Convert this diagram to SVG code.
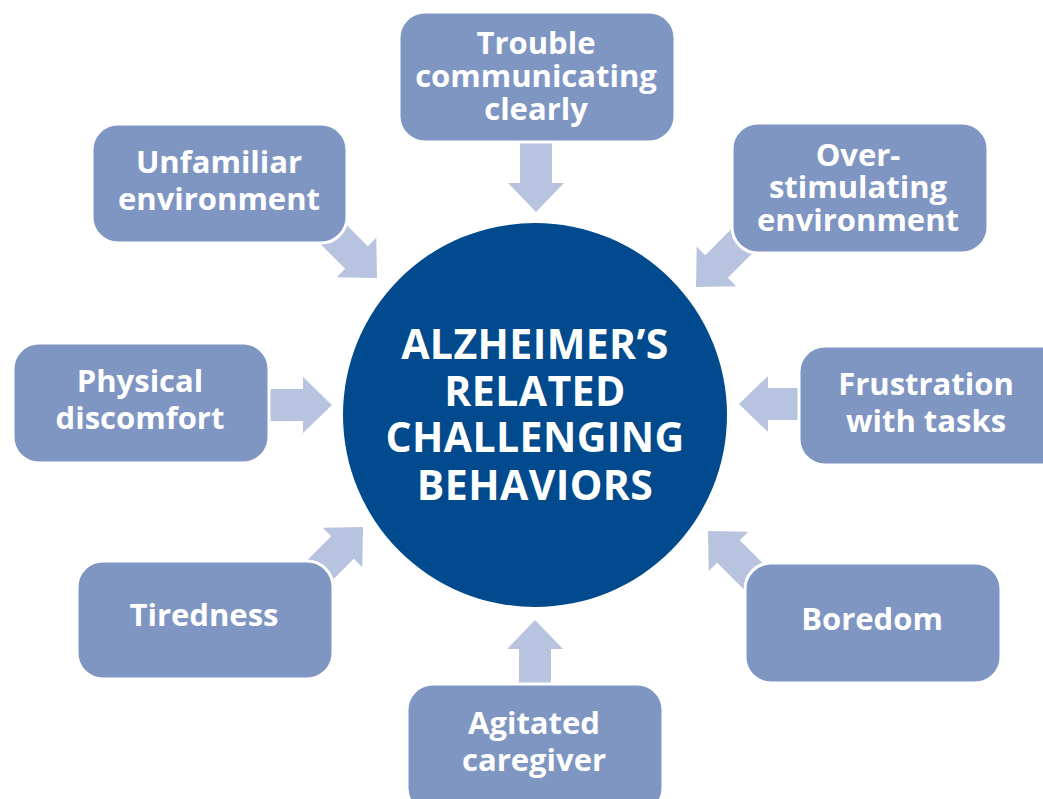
<svg xmlns="http://www.w3.org/2000/svg" width="1043" height="799" viewBox="0 0 1043 799">
<style>
.box{fill:#7F96C2;stroke:#FFFFFF;stroke-width:3}
.arr{fill:#B8C3DF}
.lbl{font-family:"Open Sans","Liberation Sans",sans-serif;font-weight:700;font-size:31px;fill:#FFFFFF;text-anchor:middle}
.ttl{font-family:"Open Sans","Liberation Sans",sans-serif;font-weight:700;font-size:41px;letter-spacing:0.4px;fill:#FFFFFF;text-anchor:middle}
</style>
<defs>
<polygon id="arrow" points="0,0 -29,-28 -29,-16 -78,-16 -78,16 -29,16 -29,28"/>
</defs>
<rect width="1043" height="799" fill="#FFFFFF"/>
<g id="connectors" class="arr">
<use href="#arrow" transform="translate(536,212) rotate(90)"/>
<use href="#arrow" transform="translate(332,405)"/>
<use href="#arrow" transform="translate(535,620) rotate(-90)"/>
<use href="#arrow" transform="translate(739,404) rotate(180)"/>
<use href="#arrow" transform="translate(377,278) rotate(45)"/>
<use href="#arrow" transform="translate(696,287) rotate(135)"/>
<use href="#arrow" transform="translate(363,527) rotate(-45)"/>
<use href="#arrow" transform="translate(708,531) rotate(-135)"/>
</g>
<g id="center">
<circle cx="535" cy="415" r="192" fill="#004A8D"/>
<text class="ttl" x="535" y="359"><tspan x="535" y="359">ALZHEIMER’S</tspan><tspan x="535" y="406">RELATED</tspan><tspan x="535" y="452">CHALLENGING</tspan><tspan x="535" y="500">BEHAVIORS</tspan></text>
</g>
<g id="trouble">
<rect class="box" x="399" y="12" width="276" height="130" rx="26"/>
<text class="lbl"><tspan x="536" y="54">Trouble</tspan><tspan x="536" y="87">communicating</tspan><tspan x="536" y="120">clearly</tspan></text>
</g>
<g id="unfamiliar">
<rect class="box" x="92" y="124" width="255" height="119" rx="26"/>
<text class="lbl"><tspan x="219" y="173">Unfamiliar</tspan><tspan x="219" y="210">environment</tspan></text>
</g>
<g id="overstim">
<rect class="box" x="732" y="123" width="256" height="130" rx="26"/>
<text class="lbl"><tspan x="858" y="166">Over-</tspan><tspan x="858" y="198">stimulating</tspan><tspan x="858" y="231">environment</tspan></text>
</g>
<g id="physical">
<rect class="box" x="13" y="343" width="256" height="120" rx="26"/>
<text class="lbl"><tspan x="140" y="392">Physical</tspan><tspan x="140" y="429">discomfort</tspan></text>
</g>
<g id="frustration">
<rect class="box" x="799" y="346" width="270" height="119" rx="26"/>
<text class="lbl"><tspan x="926" y="395">Frustration</tspan><tspan x="926" y="432">with tasks</tspan></text>
</g>
<g id="tiredness">
<rect class="box" x="77" y="561" width="256" height="118" rx="26"/>
<text class="lbl" x="204" y="626">Tiredness</text>
</g>
<g id="boredom">
<rect class="box" x="745" y="563" width="256" height="120" rx="26"/>
<text class="lbl" x="872" y="630">Boredom</text>
</g>
<g id="agitated">
<rect class="box" x="407" y="684" width="256" height="130" rx="26"/>
<text class="lbl"><tspan x="534" y="734">Agitated</tspan><tspan x="534" y="771">caregiver</tspan></text>
</g>
</svg>
